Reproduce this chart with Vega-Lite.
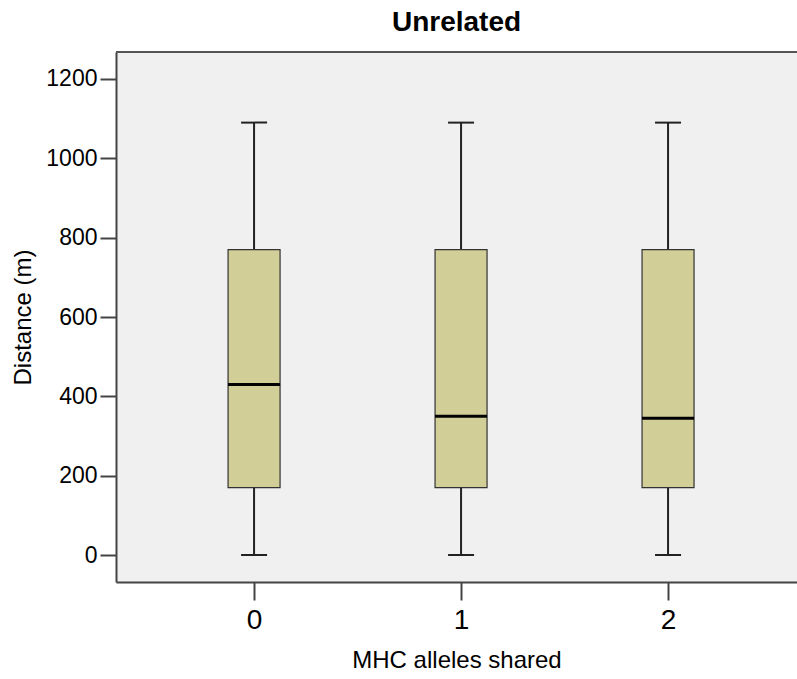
{
  "$schema": "https://vega.github.io/schema/vega-lite/v6.json",
  "autosize": "none",
  "width": 681,
  "height": 530,
  "padding": {"left": 116, "top": 52, "right": 0, "bottom": 97},
  "background": "white",
  "config": {
    "view": {"fill": "#f0f0f0", "stroke": null},
    "font": "Liberation Sans",
    "axis": {"grid": false, "domainColor": "#444444", "domainWidth": 2, "tickColor": "#444444", "tickWidth": 2, "labelColor": "#000000", "titleColor": "#000000", "titleFontWeight": "normal", "labelFont": "Liberation Sans", "titleFont": "Liberation Sans"}
  },
  "title": {"text": "Unrelated", "fontSize": 28, "fontWeight": "bold", "font": "Liberation Sans", "color": "#000000", "anchor": "middle", "offset": 14},
  "data": {"values": [
    {"group": 0, "min": 0, "q1": 170, "median": 430, "q3": 770, "max": 1090},
    {"group": 1, "min": 0, "q1": 170, "median": 350, "q3": 770, "max": 1090},
    {"group": 2, "min": 0, "q1": 170, "median": 345, "q3": 770, "max": 1090}
  ]},
  "encoding": {
    "x": {"field": "group", "type": "quantitative", "scale": {"domain": [-0.667, 2.623], "nice": false, "zero": false, "padding": 0}, "axis": {"values": [0, 1, 2], "format": "d", "title": "MHC alleles shared", "labelFontSize": 28, "tickSize": 18, "labelPadding": 6, "titleFontSize": 24, "titlePadding": 14}}
  },
  "layer": [
    {"mark": {"type": "rule", "color": "#222222", "strokeWidth": 2},
     "encoding": {"y": {"field": "min", "type": "quantitative", "scale": {"domain": [-68, 1268], "nice": false, "zero": false}, "axis": {"values": [0, 200, 400, 600, 800, 1000, 1200], "format": "d", "title": "Distance (m)", "labelFontSize": 23, "tickSize": 16, "labelPadding": 3, "titleFontSize": 24, "titlePadding": 10}}, "y2": {"field": "max"}}},
    {"mark": {"type": "tick", "orient": "horizontal", "size": 26, "thickness": 2, "color": "#222222", "opacity": 1},
     "encoding": {"y": {"field": "max", "type": "quantitative"}}},
    {"mark": {"type": "tick", "orient": "horizontal", "size": 26, "thickness": 2, "color": "#222222", "opacity": 1},
     "encoding": {"y": {"field": "min", "type": "quantitative"}}},
    {"mark": {"type": "bar", "size": 52, "fill": "#d2ce98", "stroke": "#333333", "strokeWidth": 1.2, "opacity": 1},
     "encoding": {"y": {"field": "q1", "type": "quantitative"}, "y2": {"field": "q3"}}},
    {"mark": {"type": "tick", "orient": "horizontal", "size": 52, "thickness": 3, "color": "#000000", "opacity": 1},
     "encoding": {"y": {"field": "median", "type": "quantitative"}}},
    {"data": {"values": [{}]},
     "mark": {"type": "rule", "color": "#555555", "strokeWidth": 2},
     "encoding": {"y": {"datum": 1268}, "x": null}}
  ]
}
